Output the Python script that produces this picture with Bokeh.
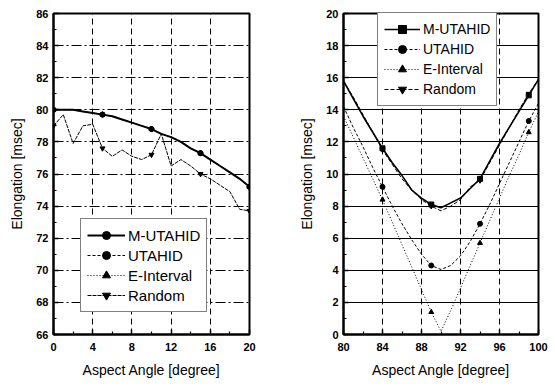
from bokeh.plotting import figure
from bokeh.layouts import row
from bokeh.models import Range1d, FixedTicker, Legend, LegendItem, ColumnDataSource
from bokeh.embed import file_html
from bokeh.resources import INLINE

# ---------------- data: left panel ----------------
angle_left = list(range(0, 21))
m_utahid_left = [80.0, 80.0, 80.0, 79.9, 79.8, 79.7, 79.6, 79.4, 79.2, 79.0, 78.8,
                 78.5, 78.3, 78.0, 77.6, 77.3, 76.9, 76.5, 76.1, 75.7, 75.2]
utahid_left = [80.0, 80.0, 80.0, 79.9, 79.8, 79.7, 79.6, 79.4, 79.2, 79.0, 78.8,
               78.5, 78.3, 78.0, 77.6, 77.3, 76.9, 76.5, 76.1, 75.7, 75.2]
e_interval_left = [80.0, 80.0, 80.0, 79.9, 79.8, 79.7, 79.6, 79.4, 79.2, 79.0, 78.8,
                   78.5, 78.3, 78.0, 77.6, 77.3, 76.9, 76.5, 76.1, 75.7, 75.2]
random_left = [79.0, 79.7, 77.9, 79.0, 79.1, 77.6, 77.1, 77.5, 77.1, 76.9, 77.2,
               78.5, 76.5, 76.9, 76.5, 76.0, 75.7, 75.3, 74.9, 73.8, 73.7]
marker_idx_left = [0, 5, 10, 15, 20]
xticks_left = [0, 4, 8, 12, 16, 20]
yticks_left = [66, 68, 70, 72, 74, 76, 78, 80, 82, 84, 86]

# ---------------- data: right panel ----------------
angle_right = list(range(80, 101))
m_utahid_right = [15.8, 14.7, 13.6, 12.6, 11.6, 10.7, 9.9, 9.0, 8.5, 8.1, 7.9,
                  8.2, 8.5, 9.1, 9.7, 10.8, 11.9, 12.9, 13.9, 14.9, 15.9]
utahid_right = [14.2, 12.9, 11.7, 10.4, 9.2, 8.0, 6.9, 5.9, 5.0, 4.3, 4.05,
                4.3, 4.9, 5.8, 6.9, 8.1, 9.4, 10.7, 12.0, 13.3, 14.4]
e_interval_right = [13.6, 12.3, 11.0, 9.7, 8.4, 7.0, 5.6, 4.2, 2.8, 1.4, 0.2,
                    1.5, 2.9, 4.3, 5.7, 7.1, 8.5, 9.9, 11.2, 12.6, 13.9]
random_right = [15.8, 14.8, 13.7, 12.6, 11.5, 10.6, 9.7, 9.0, 8.4, 8.0, 7.7,
                8.0, 8.4, 9.2, 9.6, 10.7, 11.8, 12.9, 14.0, 15.0, 15.9]
marker_idx_right = [4, 9, 14, 19]
xticks_right = [80, 84, 88, 92, 96, 100]
yticks_right = [0, 2, 4, 6, 8, 10, 12, 14, 16, 18, 20]

series_names = ["M-UTAHID", "UTAHID", "E-Interval", "Random"]

FONT = "Liberation Sans"


def style_axes(p, xt, yt, xminor, yminor):
    for ax, ticks, minor in ((p.xaxis[0], xt, xminor), (p.yaxis[0], yt, yminor)):
        ax.ticker = FixedTicker(ticks=ticks, minor_ticks=minor)
        ax.axis_line_width = 2
        ax.axis_line_color = "black"
        ax.major_tick_in = 5
        ax.major_tick_out = 0
        ax.minor_tick_in = 3
        ax.minor_tick_out = 0
        ax.major_tick_line_width = 1.5
        ax.minor_tick_line_width = 1.2
        ax.major_label_text_font = FONT
        ax.major_label_text_font_size = "11px"
        ax.major_label_text_font_style = "bold"
        ax.major_label_text_color = "black"
        ax.axis_label_text_font = FONT
        ax.axis_label_text_font_size = "14px"
        ax.axis_label_text_font_style = "normal"
        ax.axis_label_text_color = "black"
        ax.axis_label_standoff = 8
    p.xaxis[0].major_label_standoff = 8
    p.yaxis[0].major_label_standoff = 5
    p.xaxis[0].axis_label = "Aspect Angle [degree]"
    p.yaxis[0].axis_label = "Elongation [msec]"
    p.outline_line_color = "black"
    p.outline_line_width = 2
    p.outline_line_alpha = 1
    p.background_fill_color = "white"
    p.border_fill_color = "white"


def add_series(p, x, ys, idx, markers, styles):
    items = []
    for name, y, mk, (lw, dash) in zip(series_names, ys, markers, styles):
        lr = p.line(x, y, line_color="black", line_width=lw, line_dash=dash)
        src = ColumnDataSource(dict(x=[x[i] for i in idx], y=[y[i] for i in idx]))
        sr = p.scatter("x", "y", source=src, marker=mk, size=5,
                       fill_color="black", line_color="black")
        items.append(LegendItem(label=name, renderers=[lr, sr]))
    return items


def make_legend(items, loc, fs, pad, gw):
    lg = Legend(items=items, location=loc)
    lg.border_line_color = "black"
    lg.border_line_width = 1.5
    lg.background_fill_color = "white"
    lg.background_fill_alpha = 1
    lg.label_text_font = FONT
    lg.label_text_font_size = fs
    lg.label_text_color = "black"
    lg.padding = pad
    lg.margin = 0
    lg.spacing = 0
    lg.label_height = 20
    lg.glyph_height = 20
    lg.glyph_width = gw
    lg.label_standoff = 3
    return lg


# ---------------- left figure ----------------
p1 = figure(width=290, height=388, x_range=Range1d(0, 20), y_range=Range1d(66, 86),
            output_backend="svg", toolbar_location=None,
            min_border_left=53, min_border_right=41, min_border_top=13, min_border_bottom=51)
style_axes(p1, xticks_left, yticks_left, [2, 6, 10, 14, 18], list(range(67, 86, 2)))
p1.xgrid.ticker = FixedTicker(ticks=[4, 8, 12, 16])
p1.xgrid.grid_line_color = "black"
p1.xgrid.grid_line_dash = "6 4"
p1.xgrid.grid_line_width = 1
p1.ygrid.ticker = FixedTicker(ticks=list(range(68, 86, 2)))
p1.ygrid.grid_line_color = "black"
p1.ygrid.grid_line_dash = "10 3 2 3"
p1.ygrid.grid_line_width = 1

left_styles = [(2, "solid"), (1, "3 2"), (1, "1 2"), (1, "4 1")]
left_items = add_series(p1, angle_left,
                        [m_utahid_left, utahid_left, e_interval_left, random_left],
                        marker_idx_left,
                        ["circle", "circle", "triangle", "inverted_triangle"],
                        left_styles)
p1.add_layout(make_legend(left_items, (27, 22), "15px", 6, 38))

# ---------------- right figure ----------------
p2 = figure(width=265, height=388, x_range=Range1d(80, 100), y_range=Range1d(0, 20),
            output_backend="svg", toolbar_location=None,
            min_border_left=53, min_border_right=17, min_border_top=8, min_border_bottom=54)
style_axes(p2, xticks_right, yticks_right, [82, 86, 90, 94, 98], list(range(1, 20, 2)))
p2.xgrid.ticker = FixedTicker(ticks=[84, 88, 92, 96])
p2.xgrid.grid_line_color = "black"
p2.xgrid.grid_line_dash = "6 4"
p2.xgrid.grid_line_width = 1
p2.ygrid.ticker = FixedTicker(ticks=list(range(2, 20, 2)))
p2.ygrid.grid_line_color = "black"
p2.ygrid.grid_line_dash = "solid"
p2.ygrid.grid_line_width = 1

right_styles = [(1.6, "solid"), (1, "3 2"), (1, "1 2"), (1, "4 2")]
right_items = add_series(p2, angle_right,
                         [m_utahid_right, utahid_right, e_interval_right, random_right],
                         marker_idx_right,
                         ["square", "circle", "triangle", "inverted_triangle"],
                         right_styles)
p2.add_layout(make_legend(right_items, (34, 228), "14px", 6, 36))

layout = row(p1, p2)
open("out.html", "w").write(file_html(layout, INLINE))
